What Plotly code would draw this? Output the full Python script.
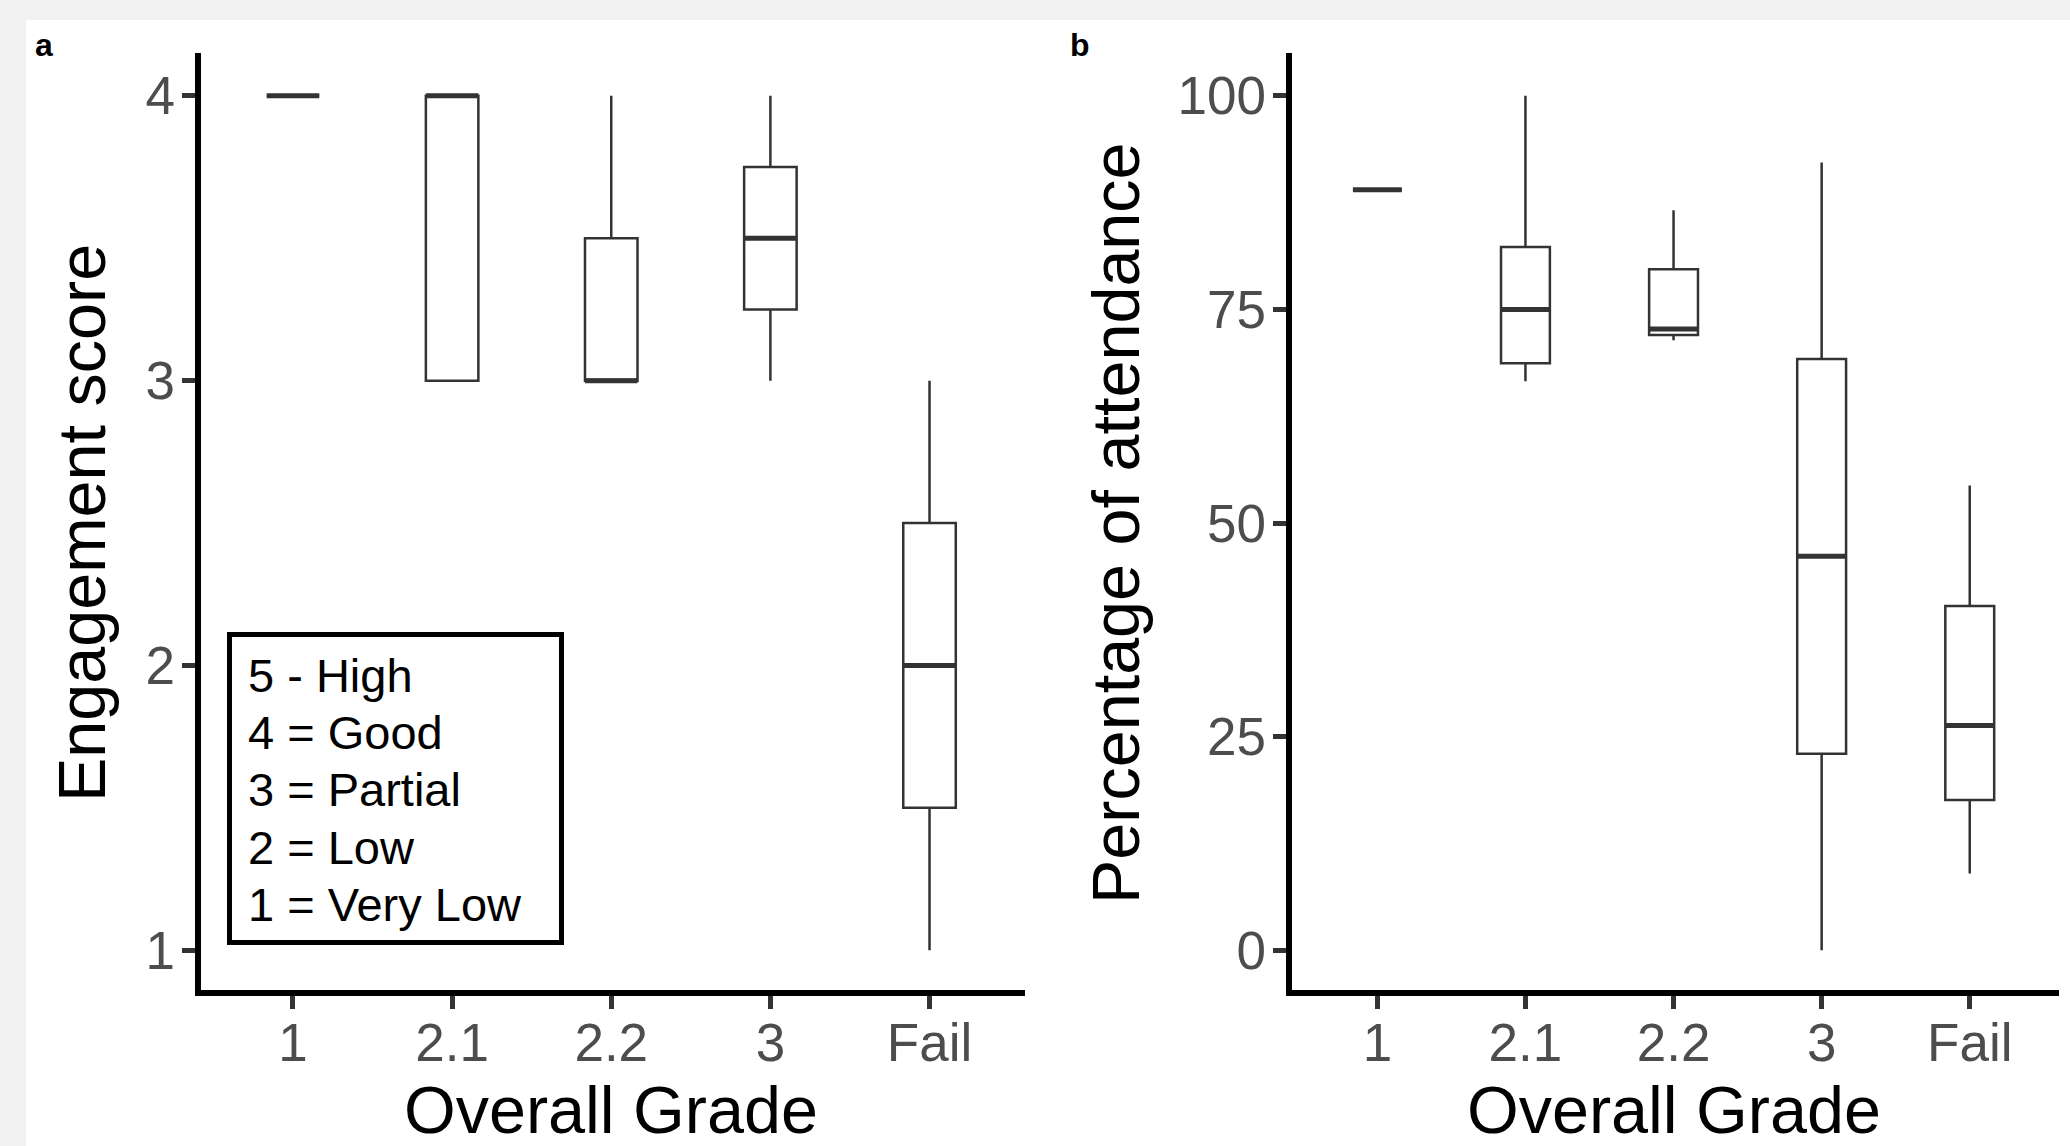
import plotly.graph_objects as go

# ---------------- data ----------------
grades = ["1", "2.1", "2.2", "3", "Fail"]

# Panel a: Engagement score (box statistics per grade)
eng_low = [4, 3, 3, 3, 1]
eng_q1 = [4, 3, 3, 3.25, 1.5]
eng_med = [4, 4, 3, 3.5, 2]
eng_q3 = [4, 4, 3.5, 3.75, 2.5]
eng_high = [4, 4, 4, 4, 3]
eng_ticks = [1, 2, 3, 4]

# Panel b: Percentage of attendance (box statistics per grade)
att_low = [89, 66.6, 71.4, 0, 9.0]
att_q1 = [89, 68.7, 72.0, 23.0, 17.6]
att_med = [89, 75.0, 72.7, 46.1, 26.3]
att_q3 = [89, 82.3, 79.7, 69.2, 40.3]
att_high = [89, 100, 86.6, 92.2, 54.4]
att_ticks = [0, 25, 50, 75, 100]

legend_lines = ["5 - High", "4 = Good", "3 = Partial", "2 = Low", "1 = Very Low"]

# ---------------- layout helpers ----------------
W, H = 2070, 1146
FONT = "Liberation Sans, Arial, sans-serif"
LINE = "#333333"
LW = 6  # axis line width


def px(x):
    return x / W


def py(y):
    return 1 - y / H


fig = go.Figure()


def add_panel(xa, ya, low, q1, med, q3, high):
    fig.add_trace(go.Box(
        x=grades, q1=q1, median=med, q3=q3, lowerfence=low, upperfence=high,
        xaxis=xa, yaxis=ya, width=0.33, whiskerwidth=0,
        fillcolor="white", line=dict(color=LINE, width=2.5),
        boxpoints=False, showlegend=False, hoverinfo="skip"))
    # thicker median line (ggplot style)
    fig.add_trace(go.Box(
        x=grades, q1=med, median=med, q3=med, lowerfence=med, upperfence=med,
        xaxis=xa, yaxis=ya, width=0.33, whiskerwidth=0,
        fillcolor="rgba(0,0,0,0)", line=dict(color=LINE, width=5),
        boxpoints=False, showlegend=False, hoverinfo="skip"))


add_panel("x", "y", eng_low, eng_q1, eng_med, eng_q3, eng_high)
add_panel("x2", "y2", att_low, att_q1, att_med, att_q3, att_high)

# panel geometry (ggplot panel edges, pixels)
a_left, a_right = 197.5, 1025.0
b_left, b_right = 1288.5, 2058.6
top, bottom = 53.1, 993.0
half = LW / 2

a_step = (a_right - a_left) / 5.2
b_step = (b_right - b_left) / 5.2
a_unit = (bottom - top) / 3.3
b_unit = (bottom - top) / 110.0

TICKFONT = dict(family=FONT, size=53, color="#4d4d4d")
xcommon = dict(type="category", categoryorder="array", categoryarray=grades,
               showline=True, linewidth=LW, linecolor="black",
               ticks="outside", ticklen=13, tickwidth=5, tickcolor=LINE,
               showgrid=False, zeroline=False, ticklabelstandoff=-12,
               tickfont=TICKFONT)
ycommon = dict(showline=True, linewidth=LW, linecolor="black",
               ticks="outside", ticklen=13, tickwidth=5, tickcolor=LINE,
               showgrid=False, zeroline=False, ticklabelstandoff=-4,
               tickfont=TICKFONT)

fig.update_layout(
    width=W, height=H, autosize=False,
    margin=dict(l=0, r=0, t=0, b=0),
    paper_bgcolor="#f2f2f2", plot_bgcolor="rgba(0,0,0,0)",
    boxmode="overlay",
    xaxis=dict(xcommon, domain=[px(a_left + half), px(a_right)],
               range=[-0.6 + half / a_step, 4.6], anchor="y"),
    yaxis=dict(ycommon, domain=[py(bottom - half), py(top)],
               range=[0.85 + half / a_unit, 4.15], tickvals=eng_ticks, anchor="x"),
    xaxis2=dict(xcommon, domain=[px(b_left + half), px(b_right)],
                range=[-0.6 + half / b_step, 4.6], anchor="y2"),
    yaxis2=dict(ycommon, domain=[py(bottom - half), py(top)],
                range=[-5 + half / b_unit, 105], tickvals=att_ticks, anchor="x2"),
)

shapes = [
    # white figure panel
    dict(type="rect", xref="paper", yref="paper", x0=px(26), x1=1, y0=0, y1=py(20),
         fillcolor="white", line=dict(width=0), layer="below"),
    # legend key box
    dict(type="rect", xref="paper", yref="paper", x0=px(229.5), x1=px(561.5),
         y0=py(942.5), y1=py(634.5), fillcolor="rgba(0,0,0,0)",
         line=dict(color="black", width=5), layer="above"),
]
fig.update_layout(shapes=shapes)

ann = []
# panel tags
ann.append(dict(text="<b>a</b>", x=px(33), y=py(45), xref="paper", yref="paper",
                xanchor="left", yanchor="middle", showarrow=False,
                font=dict(family=FONT, size=32, color="black")))
ann.append(dict(text="<b>b</b>", x=px(1068), y=py(45), xref="paper", yref="paper",
                xanchor="left", yanchor="middle", showarrow=False,
                font=dict(family=FONT, size=32, color="black")))
# axis titles
for cx in [(a_left + a_right) / 2, (b_left + b_right) / 2]:
    ann.append(dict(text="Overall Grade", x=px(cx), y=py(1110), xref="paper", yref="paper",
                    xanchor="center", yanchor="middle", showarrow=False,
                    font=dict(family=FONT, size=66.5, color="black")))
ann.append(dict(text="Engagement score", x=px(82), y=py((top + bottom) / 2),
                xref="paper", yref="paper", textangle=-90,
                xanchor="center", yanchor="middle", showarrow=False,
                font=dict(family=FONT, size=66.5, color="black")))
ann.append(dict(text="Percentage of attendance", x=px(1116), y=py((top + bottom) / 2),
                xref="paper", yref="paper", textangle=-90,
                xanchor="center", yanchor="middle", showarrow=False,
                font=dict(family=FONT, size=66.5, color="black")))
# key text, one line each
for i, line in enumerate(legend_lines):
    ann.append(dict(text=line, x=px(246), y=py(675 + 57.4 * i),
                    xref="paper", yref="paper", xanchor="left", yanchor="middle",
                    align="left", showarrow=False,
                    font=dict(family=FONT, size=47, color="black")))
fig.update_layout(annotations=ann)

fig.write_html(
    "out.html",
    config={"displayModeBar": False},
    post_script="document.body.style.margin='0';"
                "document.body.style.background='#f2f2f2';",
)
